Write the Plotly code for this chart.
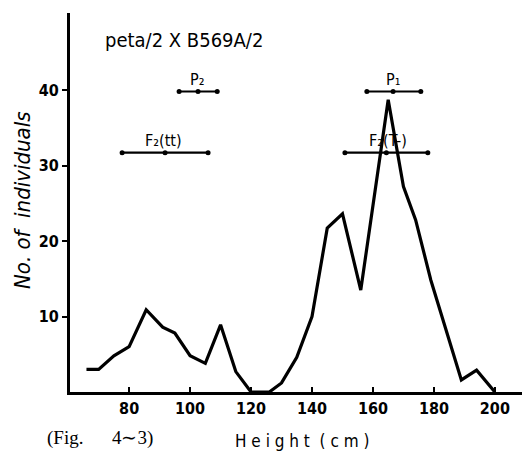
import plotly.graph_objects as go

# Frequency polygon: height (cm) vs number of individuals
heights = [66, 70, 75, 80, 85.6, 91, 95, 100, 105, 110, 115, 120, 126, 130, 135, 140,
           145, 150, 156, 165, 170, 174, 179, 189, 194, 200]
counts = [3, 3, 4.8, 6, 10.9, 8.6, 7.8, 4.8, 3.8, 8.9, 2.7, 0, 0, 1.2, 4.6, 10,
          21.7, 23.6, 13.5, 38.7, 27.2, 22.8, 14.8, 1.6, 2.9, 0]

# Range bars (min, mean, max) and their levels
range_names = ["P₂", "F₂(tt)", "P₁", "F₂(T-)"]
range_lo = [96.4, 77.7, 158, 150.8]
range_mid = [102.6, 91.8, 166.6, 164.4]
range_hi = [108.9, 105.9, 175.7, 178]
range_level = [39.8, 31.7, 39.8, 31.7]

x_ticks = [80, 100, 120, 140, 160, 180, 200]
y_ticks = [10, 20, 30, 40]

hand = "Liberation Sans Narrow, Arial Narrow, DejaVu Sans Condensed, sans-serif"

fig = go.Figure()
fig.add_trace(go.Scatter(x=heights, y=counts, mode="lines",
                         line=dict(color="black", width=3.2), showlegend=False,
                         hoverinfo="skip"))

for name, lo, mid, hi, lv in zip(range_names, range_lo, range_mid, range_hi, range_level):
    fig.add_trace(go.Scatter(x=[lo, mid, hi], y=[lv, lv, lv], mode="lines+markers",
                             line=dict(color="black", width=2.2),
                             marker=dict(color="black", size=5),
                             showlegend=False, hoverinfo="skip"))

annotations = []
label_shift = [-0.2, -0.6, 0.0, 0.5]
for name, mid, lv, sh in zip(range_names, range_mid, range_level, label_shift):
    annotations.append(dict(x=mid + sh, y=lv, text=name, showarrow=False,
                            xanchor="center", yanchor="bottom", yshift=1,
                            font=dict(family=hand, size=16, color="black")))

annotations += [
    dict(x=103, y=40, xref="pixel", yref="pixel", text="peta/2 X B569A/2",
         showarrow=False, xanchor="left", yanchor="middle",
         font=dict(family=hand, size=20, color="black")),
    dict(x=22, y=200, xref="pixel", yref="pixel", text="<i>No. of  individuals</i>",
         showarrow=False, textangle=-90, xanchor="center", yanchor="middle",
         font=dict(family=hand, size=22, color="black")),
    dict(x=302, y=441, xref="pixel", yref="pixel", text="H e i g h t  ( c m )",
         showarrow=False, xanchor="center", yanchor="middle",
         font=dict(family=hand, size=17, color="black")),
    dict(x=100, y=438, xref="pixel", yref="pixel",
         text="(Fig.&nbsp;&nbsp;&nbsp;&nbsp;&nbsp; 4∼3)",
         showarrow=False, xanchor="center", yanchor="middle",
         font=dict(family="Liberation Serif, Times New Roman, serif", size=19, color="black")),
]

# pixel-referenced annotations: convert to paper coordinates
W, H = 522, 465
ml, mr, mt, mb = 70, 0, 13, 73
fixed = []
for a in annotations:
    if a.get("xref") == "pixel":
        a = dict(a)
        a["xref"] = "paper"; a["yref"] = "paper"
        a["x"] = (a["x"] - ml) / (W - ml - mr)
        a["y"] = 1 - (a["y"] - mt) / (H - mt - mb)
        fixed.append(a)
    else:
        fixed.append(a)

fig.update_layout(
    width=W, height=H,
    margin=dict(l=ml, r=mr, t=mt, b=mb),
    paper_bgcolor="white", plot_bgcolor="white",
    annotations=fixed,
    xaxis=dict(range=[60.6, 208.9], tickvals=x_ticks, ticks="inside", ticklen=5,
               tickwidth=2, tickcolor="black", showline=True, linecolor="black",
               linewidth=3, showgrid=False, zeroline=False,
               tickfont=dict(family=hand, size=16, color="black", weight="bold")),
    yaxis=dict(range=[0, 50.2], tickvals=y_ticks, ticks="outside", ticklen=5,
               tickwidth=2, tickcolor="black", showline=True, linecolor="black",
               linewidth=3, showgrid=False, zeroline=False,
               tickfont=dict(family=hand, size=16, color="black", weight="bold")),
)

fig.write_html("out.html")
